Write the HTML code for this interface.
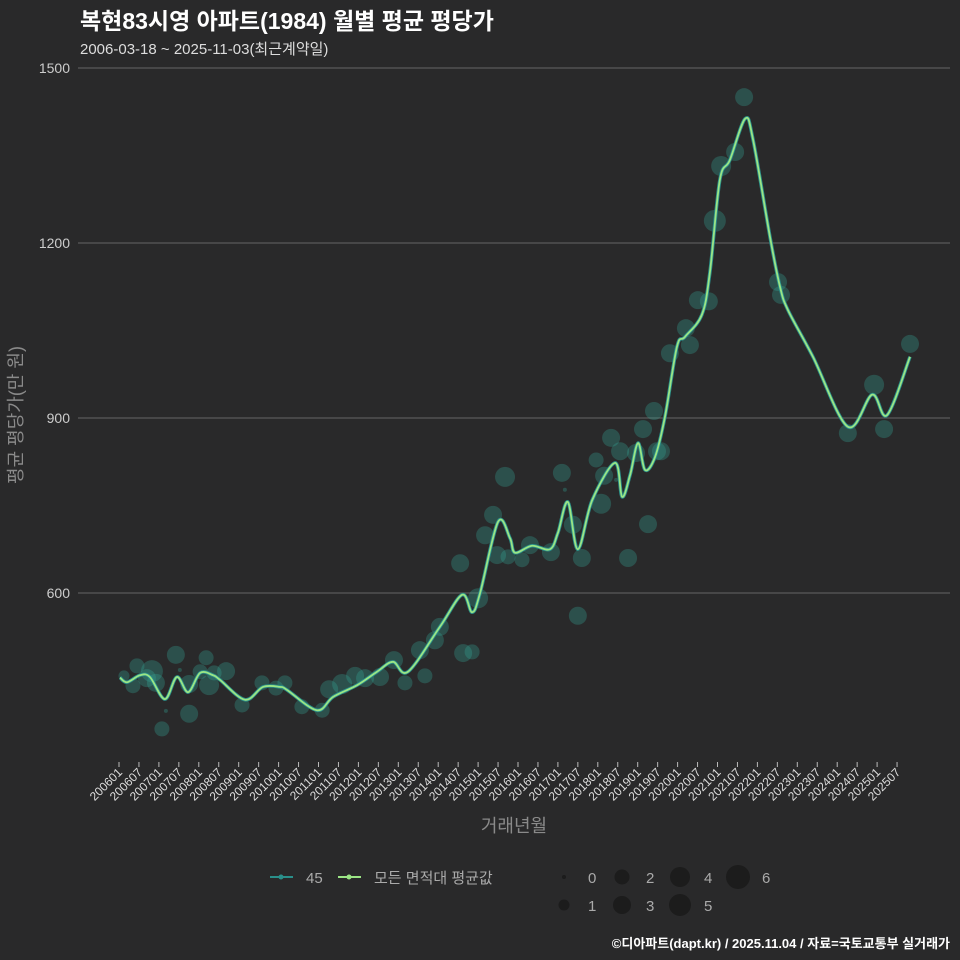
<!DOCTYPE html>
<html><head><meta charset="utf-8"><style>
body{margin:0;background:#29292a;}
svg{display:block;font-family:"Liberation Sans","Noto Sans CJK KR",sans-serif;}
</style></head><body>
<svg id="chart" width="960" height="960" viewBox="0 0 960 960">
<rect width="960" height="960" fill="#29292a"/>
<text x="80" y="29" fill="#fff" font-size="23" font-weight="bold">복현83시영 아파트(1984) 월별 평균 평당가</text>
<text x="80" y="54" fill="#ddd" font-size="15">2006-03-18 ~ 2025-11-03(최근계약일)</text>
<g id="grid"></g>
<g id="xaxis"></g>
<g id="points"></g>
<g id="lines"></g>
<text transform="translate(22,415) rotate(-90)" text-anchor="middle" fill="#8a8a8a" font-size="18">평균 평당가(만 원)</text>
<text x="514" y="832" text-anchor="middle" fill="#8a8a8a" font-size="18">거래년월</text>
<g>
<g><line x1="270" y1="877" x2="293" y2="877" stroke="#2a8f8a" stroke-width="2"/><circle cx="281" cy="877" r="2.5" fill="#2a8f8a"/><text x="306" y="883" fill="#aaa" font-size="15">45</text></g>
<g><line x1="338" y1="877" x2="361" y2="877" stroke="#9be585" stroke-width="2"/><circle cx="349" cy="877" r="2.5" fill="#9be585"/><text x="374" y="883" fill="#aaa" font-size="15">모든 면적대 평균값</text></g>
<g id="sizelegend"></g>
</g>
<text x="950" y="948" text-anchor="end" fill="#fff" font-size="13" font-weight="bold">©디아파트(dapt.kr) / 2025.11.04 / 자료=국토교통부 실거래가</text>
</svg>
<script>
const yTicks=[600,900,1200,1500];
const lineMonths=[0.3,2.4,6.3,9.3,13.8,17.4,20.8,24.4,28.3,30.4,37.9,43.3,48.4,50.5,59.5,64.4,71.6,77.6,82.4,86.9,96.5,103.2,106.2,108.6,114,117.6,119.1,124.2,129.6,132,135,138,142.3,149.2,151.3,153.7,156.1,158.2,161.2,164.2,167.8,170.2,175.3,177.7,180.7,183.7,188.3,190.7,195.8,198.8,201.2,208.7,219.2,226.5,231,237.9];
const lineValues=[455,447,459,456,418,456,430,463,459,451,417,439,439,434,399,422,442,465,482,465,542,597,567,600,722,694,669,681,675,703,756,675,759,823,765,802,857,811,833,902,1022,1039,1077,1149,1308,1342,1413,1377,1210,1125,1085,1005,885,940,905,1005];
const ptMonths=[1.5,4.2,5.4,8.4,9.9,11.1,12.9,14.1,17.1,18.3,21.1,21.1,24.4,26.2,27.1,28.6,32.2,37,43,47.2,49.9,55,61.1,63.2,67.1,71,74,78.5,82.7,86,90.5,92,95,96.5,102.6,103.5,106.2,108,110.1,112.5,113.7,116.1,117,121.2,123.6,129.9,133.2,134.1,136.5,138,139.2,143.5,145,145.9,148,149.5,150.7,153.1,155.5,157.6,159.1,160.9,161.8,163,165.7,170.5,171.7,174.1,177.4,179.2,181.1,185.3,188,198.2,199.1,219.2,227.1,230.1,237.9];
const ptValues=[458,441,475,454,466,446,367,398,494,468,393,444,465,489,442,463,466,408,446,437,446,405,399,435,444,458,454,456,485,446,502,458,519,542,651,497,499,591,699,734,665,799,662,657,682,670,806,777,717,561,660,828,753,801,866,794,843,660,840,881,718,912,843,843,1011,1054,1025,1102,1100,1238,1332,1356,1450,1133,1111,874,957,881,1027];
const ptCounts=[1,2,2,3,5,3,2,0,3,0,3,3,2,2,4,2,3,2,2,2,2,2,2,3,4,3,3,3,3,2,3,2,3,3,3,3,2,4,3,3,3,4,2,2,3,3,3,0,3,3,3,2,4,3,3,0,3,3,3,3,3,3,3,3,3,3,3,3,3,5,4,3,3,3,3,3,4,3,3];
const sizeLabels=[0,1,2,3,4,5,6];
const NS='http://www.w3.org/2000/svg';
const X0=119,XS=3.325,Y600=593,YS=175/300;
const xs=m=>X0+m*XS, ys=v=>Y600-(v-600)*YS;
const rad=c=>[2,5.5,7.5,9,10,11,12][c];
function mk(t,a,p){const e=document.createElementNS(NS,t);for(const k in a)e.setAttribute(k,a[k]);p.appendChild(e);return e;}
const grid=document.getElementById('grid');
yTicks.forEach(v=>{
 const l=mk('line',{x1:78,x2:950,y1:ys(v),y2:ys(v),stroke:'#5a5a5a','stroke-width':1.2},grid);
 
 
 const t=mk('text',{x:70,y:ys(v)+5,'text-anchor':'end',fill:'#ccc','font-size':14},grid);
 t.textContent=v;
 
 
});
const xa=document.getElementById('xaxis');
for(let i=0;i<40;i++){
 const yr=2006+Math.floor(i/2), lab=yr+(i%2?'07':'01'), m=i*6, x=xs(m);
 const tk=mk('line',{x1:x,x2:x,y1:762,y2:767,stroke:'#bbb'},xa);
 
 
 const t=mk('text',{transform:`translate(${x+4},${773}) rotate(-45)`,'text-anchor':'end',fill:'#ddd','font-size':12},xa);
 t.textContent=lab;
 
 
}
const pg=document.getElementById('points');
ptMonths.forEach((m,i)=>{
 const c=mk('circle',{cx:xs(m),cy:ys(ptValues[i]),r:rad(ptCounts[i]),fill:'#35a595','fill-opacity':0.32},pg);
 
 
});
function smooth(){
 const P=lineMonths.map((m,i)=>[xs(m),ys(lineValues[i])]);
 let d='M'+P[0][0]+','+P[0][1];
 for(let i=0;i<P.length-1;i++){
  const p0=P[i-1]||P[i],p1=P[i],p2=P[i+1],p3=P[i+2]||p2;
  const c1=[p1[0]+(p2[0]-p0[0])/6,p1[1]+(p2[1]-p0[1])/6],c2=[p2[0]-(p3[0]-p1[0])/6,p2[1]-(p3[1]-p1[1])/6];
  d+=`C${c1[0]},${c1[1]} ${c2[0]},${c2[1]} ${p2[0]},${p2[1]}`;
 }
 return d;
}
const lg=document.getElementById('lines');
const d=smooth();
const l1=mk('path',{d:d,fill:'none',stroke:'#2a8f8a','stroke-width':3.5},lg);


const l2=mk('path',{d:d,fill:'none',stroke:'#9be585','stroke-width':1.8},lg);


const sl=document.getElementById('sizelegend');
sizeLabels.forEach((s,i)=>{
 const col=Math.floor(i/2), row=i%2, cx=564+col*58, cy=877+row*28;
 const c=mk('circle',{cx:cx,cy:cy,r:rad(s),fill:'#1c1c1c'},sl);
 
 
 const t=mk('text',{x:cx+24,y:cy+6,fill:'#aaa','font-size':15},sl);
 t.textContent=s;
 
 
});
</script>
</body></html>
